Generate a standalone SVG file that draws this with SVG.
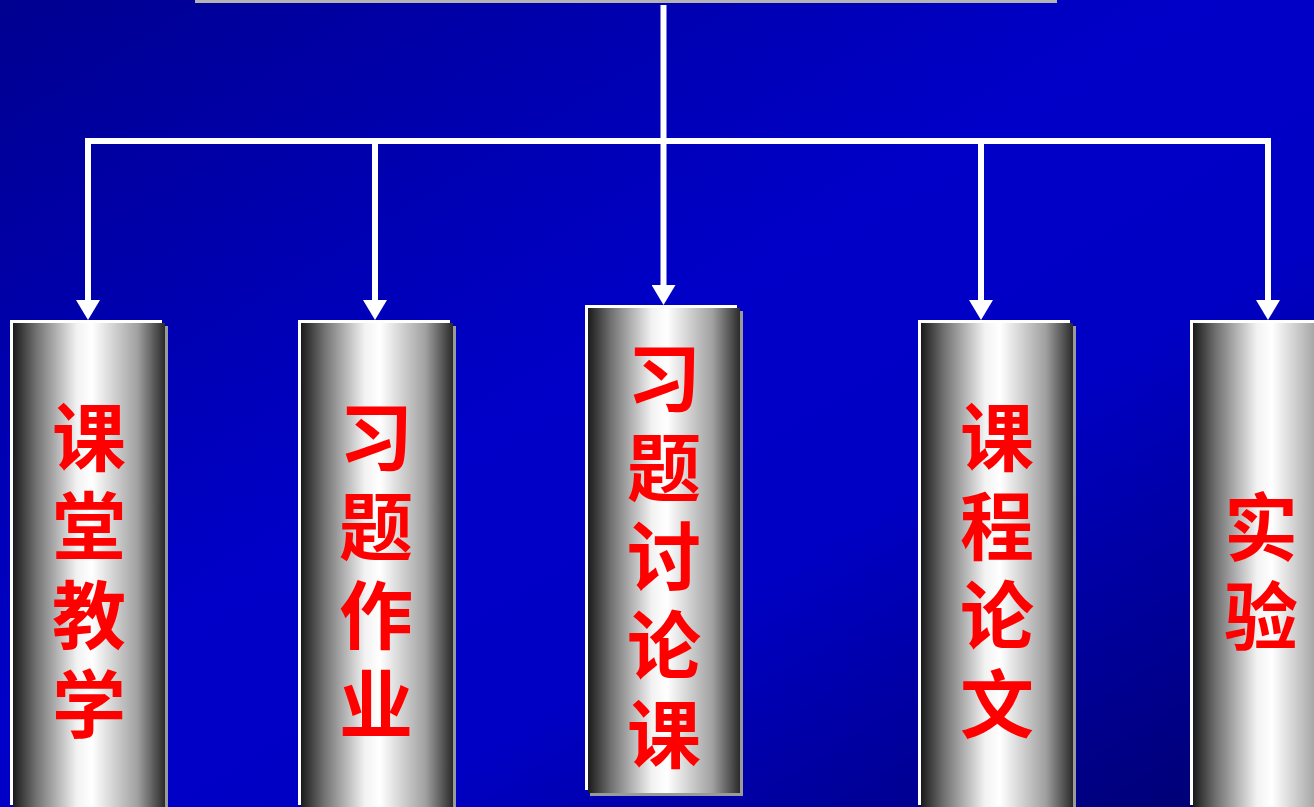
<svg xmlns="http://www.w3.org/2000/svg" width="1314" height="807" viewBox="0 0 1314 807">
<defs>
<linearGradient id="bg" x1="0" y1="0" x2="1" y2="1">
<stop offset="0" stop-color="#000090"/>
<stop offset="0.45" stop-color="#0000c8"/>
<stop offset="0.65" stop-color="#0000c4"/>
<stop offset="1" stop-color="#00006a"/>
</linearGradient>
<linearGradient id="cyl" x1="0" y1="0" x2="1" y2="0">
<stop offset="0" stop-color="#1a1a1a"/>
<stop offset="0.15" stop-color="#707070"/>
<stop offset="0.42" stop-color="#f2f2f2"/>
<stop offset="0.52" stop-color="#ffffff"/>
<stop offset="0.82" stop-color="#a0a0a0"/>
<stop offset="1" stop-color="#2a2a2a"/>
</linearGradient>
<marker id="ah" viewBox="0 0 20 24" refX="0" refY="12" markerWidth="20" markerHeight="24" markerUnits="userSpaceOnUse" orient="auto">
<path d="M0,0 L20,12 L0,24 Z" fill="#ffffff"/>
</marker>
</defs>
<style>
.conn{stroke:#ffffff;stroke-width:6;fill:none}
.shadow{fill:#9a9a9a}
.frame{fill:#ffffff}
.body{fill:url(#cyl)}
.lbl{font-family:"Noto Sans CJK SC","Noto Sans CJK JP",sans-serif;font-weight:700;font-size:74px;fill:#ff0000;writing-mode:vertical-rl;letter-spacing:15px}
</style>
<rect x="0" y="0" width="1314" height="807" fill="url(#bg)"/>
<rect x="195" y="0" width="862" height="3" fill="#b4b4b4"/>
<g id="connectors">
<line class="conn" x1="663.5" y1="5" x2="663.5" y2="141"/>
<line class="conn" x1="85" y1="141" x2="1271" y2="141"/>
<line class="conn" x1="88" y1="141" x2="88" y2="300" marker-end="url(#ah)"/>
<line class="conn" x1="375" y1="141" x2="375" y2="300" marker-end="url(#ah)"/>
<line class="conn" x1="663.5" y1="141" x2="663.5" y2="285" marker-end="url(#ah)"/>
<line class="conn" x1="981" y1="141" x2="981" y2="300" marker-end="url(#ah)"/>
<line class="conn" x1="1268" y1="138" x2="1268" y2="300" marker-end="url(#ah)"/>
</g>
<g id="node1">
<rect class="shadow" x="15" y="326" width="153" height="485"/>
<rect class="frame" x="10" y="320" width="152" height="485"/>
<rect class="body" x="13" y="323" width="152" height="485"/>
<text class="lbl" x="89" y="400">课堂教学</text>
</g>
<g id="node2">
<rect class="shadow" x="303" y="326" width="153" height="485"/>
<rect class="frame" x="298" y="320" width="152" height="485"/>
<rect class="body" x="301" y="323" width="152" height="485"/>
<text class="lbl" x="376" y="400">习题作业</text>
</g>
<g id="node3">
<rect class="shadow" x="590" y="311" width="153" height="485"/>
<rect class="frame" x="585" y="305" width="152" height="485"/>
<rect class="body" x="588" y="308" width="152" height="485"/>
<text class="lbl" x="664" y="341">习题讨论课</text>
</g>
<g id="node4">
<rect class="shadow" x="923" y="326" width="153" height="485"/>
<rect class="frame" x="918" y="320" width="152" height="485"/>
<rect class="body" x="921" y="323" width="152" height="485"/>
<text class="lbl" x="997" y="400">课程论文</text>
</g>
<g id="node5">
<rect class="shadow" x="1195" y="326" width="153" height="485"/>
<rect class="frame" x="1190" y="320" width="152" height="485"/>
<rect class="body" x="1193" y="323" width="152" height="485"/>
<text class="lbl" x="1261" y="490">实验</text>
</g>
</svg>
